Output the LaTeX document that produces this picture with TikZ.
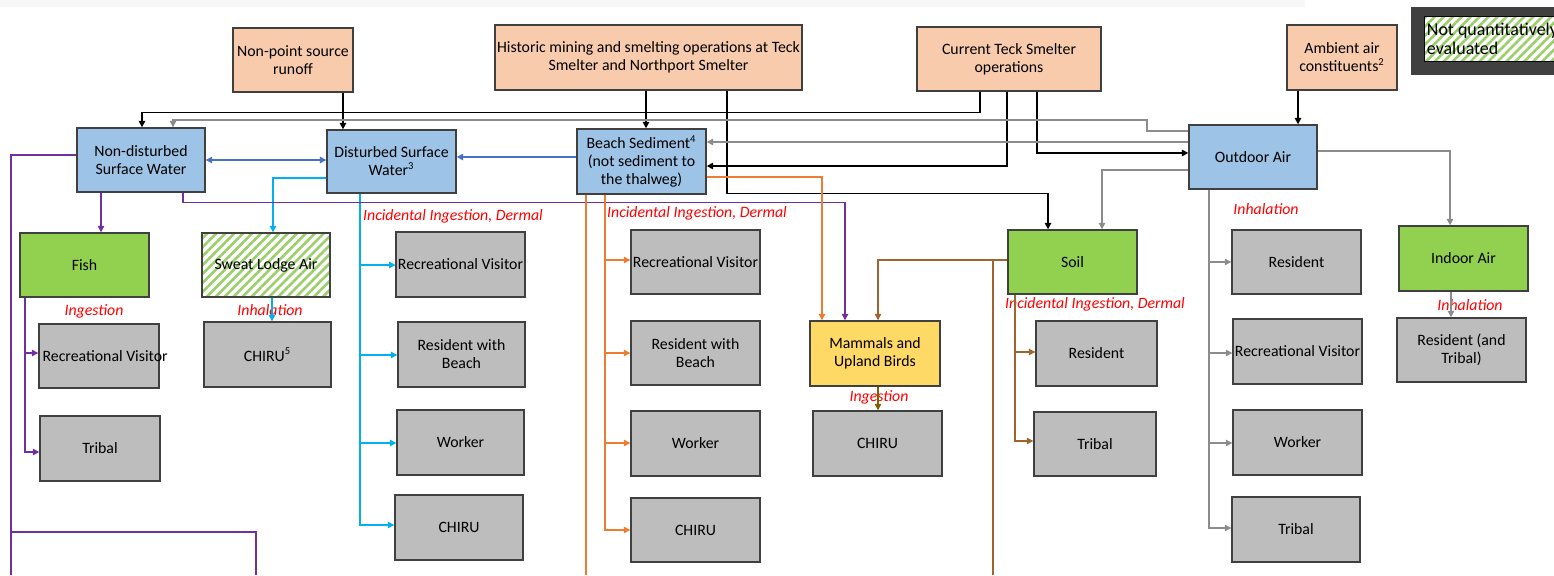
\documentclass[tikz,border=0pt]{standalone}
\usepackage{fontspec}
\setmainfont{Carlito}
\usetikzlibrary{arrows.meta,patterns.meta}
\definecolor{peach}{HTML}{F8CBAD}
\definecolor{skyblue}{HTML}{9DC3E6}
\definecolor{recgray}{HTML}{BDBDBD}
\definecolor{leafgreen}{HTML}{92D050}
\definecolor{sunyellow}{HTML}{FFD966}
\definecolor{hatchgreen}{HTML}{9CCF6C}
\definecolor{boxline}{HTML}{404040}
\definecolor{legdark}{HTML}{404040}
\definecolor{topbar}{HTML}{F7F7F7}
\definecolor{linkblue}{HTML}{4472C4}
\definecolor{linkcyan}{HTML}{00B0F0}
\definecolor{linkpurple}{HTML}{7030A0}
\definecolor{linkorange}{HTML}{ED7D31}
\definecolor{linkbrown}{HTML}{A0652E}
\definecolor{linkolive}{HTML}{7F6000}
\definecolor{linkgray}{HTML}{8C8C8C}
\tikzset{
	wh/.style 2 args={minimum width=#1*0.02cm, minimum height=#2*0.02cm},
	box/.style={draw=boxline, line width=0.8pt, align=center, inner sep=1pt,
		font=\fontsize{9}{10.3}\selectfont},
	source/.style={box, fill=peach},
	medium/.style={box, fill=skyblue},
	receptor/.style={box, fill=recgray},
	biota/.style={box, fill=leafgreen},
	hatched/.style={box, preaction={fill=white},
		pattern={Lines[angle=45,distance=3.6pt,line width=1.5pt]}, pattern color=hatchgreen},
	route/.style={text=red, font=\fontsize{9}{10.3}\selectfont\itshape, inner sep=0pt},
	tip/.style={-{Triangle[length=3.6pt,width=3.6pt]}},
	blk/.style={draw=black, line width=0.9pt, tip},
	gry/.style={draw=linkgray, line width=0.7pt, tip},
	blu/.style={draw=linkblue, line width=0.8pt, tip},
	cyn/.style={draw=linkcyan, line width=0.7pt, tip},
	prp/.style={draw=linkpurple, line width=0.7pt, tip},
	org/.style={draw=linkorange, line width=0.7pt, tip},
	brn/.style={draw=linkbrown, line width=0.7pt, tip},
	%	olv/.style={draw=linkolive, line width=0.7pt, tip},
}

\begin{document}
\begin{tikzpicture}[x={(0.02cm,0)},y={(0,-0.02cm)}]
\useasboundingbox (0,0) rectangle (1554,575);
\fill[topbar] (0,0) rectangle (1305,7);

% sources
\node[source,wh={120}{64}] (npsr) at (293,60) {Non-point source\\runoff};
\node[source,wh={307}{65}] (hist) at (648.5,57.5) {Historic mining and smelting operations at Teck\\Smelter and Northport Smelter};
\node[source,wh={184}{64}] (cur) at (1009,59) {Current Teck Smelter\\operations};
\node[source,wh={110}{65}] (amb) at (1342,57.5) {Ambient air\\constituents\textsuperscript{2}};

% legend
\fill[legdark] (1411,7) rectangle (1554,75);
\node[hatched,draw=black,anchor=north west,minimum height=45*0.02cm,align=left,inner sep=1.5pt,
	font=\fontsize{10.2}{11}\selectfont] (legend) at (1423,15) {Not quantitatively\\evaluated};

% media
\node[medium,wh={128}{64}] (ndsw) at (141,160) {Non-disturbed\\Surface Water};
\node[medium,wh={129}{63}] (dsw) at (391.5,161.5) {Disturbed Surface\\Water\textsuperscript{3}};
\node[medium,wh={129}{65}] (beach) at (641.5,161.5) {Beach Sediment\textsuperscript{4}\\(not sediment to\\the thalweg)};
\node[medium,wh={128}{64}] (out) at (1253,157) {Outdoor Air};

\node[biota,wh={129}{64}] (fish) at (84.5,265) {Fish};
\node[hatched,wh={128}{64}] (sweat) at (266,265) {Sweat Lodge Air};
\node[box,fill=sunyellow,wh={130}{65}] (mam) at (875,353.5) {Mammals and\\Upland Birds};
\node[biota,wh={129}{64}] (soil) at (1072.5,262) {Soil};
\node[biota,wh={129}{65}] (indoor) at (1463.5,258.5) {Indoor Air};

% receptors
\node[receptor,wh={120}{64}] (fishrv) at (99,356) {\makebox[0pt]{\hspace{7pt}Recreational Visitor}};
\node[receptor,wh={120}{65}] (fishtr) at (100,448.5) {Tribal};
\node[receptor,wh={127}{65}] (chiru5) at (267.5,354.5) {CHIRU\textsuperscript{5}};

\node[receptor,wh={127}{65}] (dswrv) at (460.5,264.5) {Recreational Visitor};
\node[receptor,wh={127}{65}] (dswrb) at (461.5,354.5) {Resident with\\Beach};
\node[receptor,wh={127}{65}] (dswwk) at (460.5,442.5) {Worker};
\node[receptor,wh={128}{65}] (dswch) at (459,527.5) {CHIRU};

\node[receptor,wh={129}{64}] (bchrv) at (695.5,262) {Recreational Visitor};
\node[receptor,wh={129}{64}] (bchrb) at (695.5,353) {Resident with\\Beach};
\node[receptor,wh={129}{65}] (bchwk) at (695.5,443.5) {Worker};
\node[receptor,wh={129}{64}] (bchch) at (695.5,530) {CHIRU};

\node[receptor,wh={129}{65}] (mamch) at (877.5,443.5) {CHIRU};

\node[receptor,wh={121}{65}] (soilrs) at (1096.5,353.5) {Resident};
\node[receptor,wh={122}{64}] (soiltr) at (1095,444) {Tribal};

\node[receptor,wh={129}{64}] (outrs) at (1296.5,262) {Resident};
\node[receptor,wh={129}{65}] (outrv) at (1297.5,351.5) {Recreational Visitor};
\node[receptor,wh={129}{65}] (outwk) at (1297.5,442.5) {Worker};
\node[receptor,wh={128}{65}] (outtr) at (1296,529.5) {Tribal};

\node[receptor,wh={129}{64}] (indrs) at (1461.5,350) {Resident (and\\Tribal)};

% routes
\node[route] (dswlab) at (453,216) {Incidental Ingestion, Dermal};
\node[route] (bchlab) at (697,213) {Incidental Ingestion, Dermal};
\node[route] (fishlab) at (94,311) {Ingestion};
\node[route] (sweatlab) at (270,310) {Inhalation};
\node[route] (mamlab) at (879,397) {Ingestion};
\node[route] (soillab) at (1095,304) {Incidental Ingestion, Dermal};
\node[route] (outlab) at (1266,209) {Inhalation};
\node[route] (indlab) at (1470,305) {Inhalation};

\coordinate (pend1) at (11,575);
\coordinate (pjoin) at (11,532);
\coordinate (pend2) at (256,575);
\coordinate (oend) at (586,575);
\coordinate (bjoin) at (993,260);
\coordinate (bend) at (993,575);

% black links
\draw[blk] (npsr.south -| 343,0) -- (dsw.north -| 343,0);
\draw[blk] (hist.south -| 646,0) -- (beach.north -| 646,0);
\draw[blk] (hist.south -| 727,0) -- ++(0,103) -| (soil.north -| 1048,0);
\draw[blk] (cur.south -| 980,0) -- ++(0,21) -| (ndsw.north -| 142,0);
\draw[blk] (cur.south -| 1007,0) |- (beach.east |- 0,166);
\draw[blk] (cur.south -| 1037,0) |- (out.west |- 0,153);
\draw[blk] (amb.south -| 1298,0) -- (out.north -| 1298,0);

% gray links
\draw[gry] (out.west |- 0,131) -| (1147,120) -| (ndsw.north -| 173,0);
\draw[gry] (out.west |- 0,142) -- (beach.east |- 0,142);
\draw[gry] (out.west |- 0,170) -| (soil.north -| 1102,0);
\draw[gry] (out.east |- 0,151) -| (indoor.north -| 1450,0);
\foreach \r/\y in {outrs/262,outrv/353,outwk/443,outtr/528}
	\draw[gry] (out.south -| 1209,0) |- (\r.west |- 0,\y);
\draw[gry] (indoor.south -| 1451,0) -- (indrs.north -| 1451,0);

% blue links
\draw[blu,{Triangle[length=3.6pt,width=3.6pt]}-{Triangle[length=3.6pt,width=3.6pt]}] (ndsw.east |- 0,160) -- (dsw.west |- 0,160);
\draw[blu] (beach.west |- 0,157) -- (dsw.east |- 0,157);
\draw[cyn] (dsw.west |- 0,178) -| (sweat.north -| 273,0);
\foreach \r/\y in {dswrv/265,dswrb/355,dswwk/443,dswch/525}
	\draw[cyn] (dsw.south -| 360,0) |- (\r.west |- 0,\y);
\draw[cyn] (sweat.south -| 272,0) -- (chiru5.north -| 272,0);

% purple links
\draw[prp] (ndsw.south -| 101,0) -- (fish.north -| 101,0);
\draw[prp] (ndsw.south -| 183,0) -- ++(0,10) -| (mam.north -| 845,0);
\draw[prp,-] (ndsw.west |- 0,155) -| (pend1);
\draw[prp,-] (pjoin) -| (pend2);
\foreach \r/\y in {fishrv/353,fishtr/452}
	\draw[prp] (fish.south -| 25,0) |- (\r.west |- 0,\y);

% orange links
\draw[org,-] (beach.south -| 586,0) -- (oend);
\foreach \r/\y in {bchrv/260,bchrb/353,bchwk/443,bchch/530}
	\draw[org] (beach.south -| 605,0) |- (\r.west |- 0,\y);
\draw[org] (beach.east |- 0,177) -| (mam.north -| 822,0);

% brown links
\draw[brn] (soil.west |- 0,260) -| (mam.north -| 878,0);
\draw[brn,-] (bjoin) -- (bend);
\foreach \r/\y in {soilrs/352,soiltr/441}
	\draw[brn] (soil.south -| 1015,0) |- (\r.west |- 0,\y);
\draw[brn,draw=linkolive] (mam.south -| 878,0) -- (mamch.north -| 878,0);

\end{tikzpicture}
\end{document}
